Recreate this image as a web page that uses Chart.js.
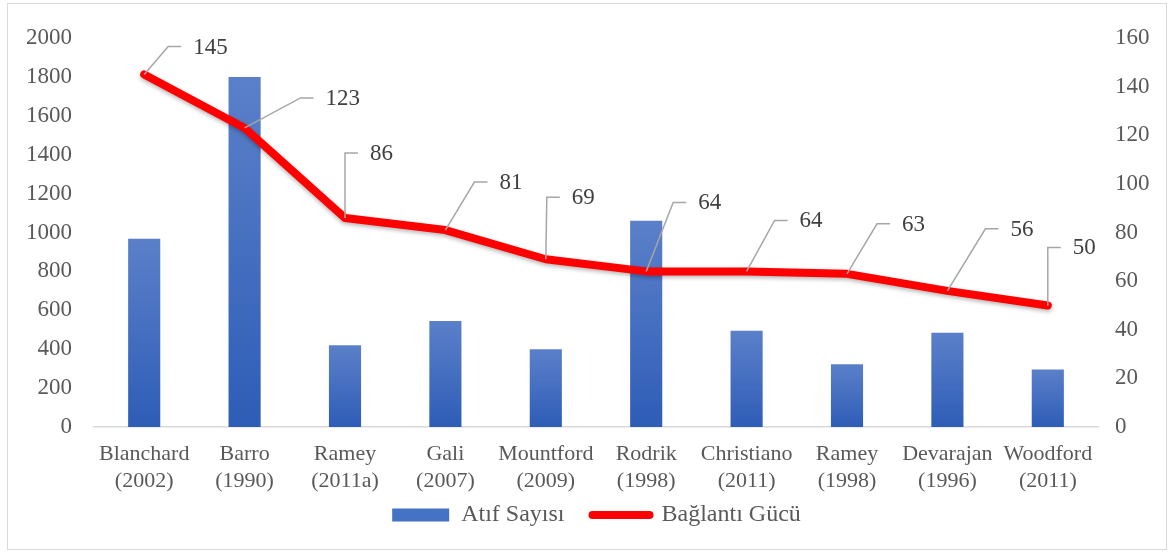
<!DOCTYPE html>
<html lang="tr">
<head>
<meta charset="utf-8">
<title>Atıf Sayısı ve Bağlantı Gücü</title>
<script src="https://cdn.jsdelivr.net/npm/chart.js@4.4.0/dist/chart.umd.min.js"></script>
<style>
  html, body { margin: 0; padding: 0; background: #fff; }
  #contenedor { position: relative; width: 1170px; height: 552px; }
  #marco { position: absolute; left: 7px; top: 3px; width: 1160px; height: 547px;
           border: 1px solid #d9d9d9; box-sizing: border-box; pointer-events: none; }
</style>
</head>
<body>
<div id="contenedor">
  <canvas id="grafico" width="1170" height="552"></canvas>
  <div id="marco"></div>
</div>
<script>
// datos
const categorias = [
  ['Blanchard', '(2002)'], ['Barro', '(1990)'], ['Ramey', '(2011a)'], ['Gali', '(2007)'],
  ['Mountford', '(2009)'], ['Rodrik', '(1998)'], ['Christiano', '(2011)'], ['Ramey', '(1998)'],
  ['Devarajan', '(1996)'], ['Woodford', '(2011)']
];
const atifSayisi = [968, 1800, 420, 545, 400, 1060, 495, 322, 485, 295];
const baglantiGucu = [145, 123, 86, 81, 69, 64, 64, 63, 56, 50];
const ejeIzq = { min: 0, max: 2000, paso: 200 };
const ejeDer = { min: 0, max: 160, paso: 20 };

// desplazamiento (px) del codo de cada linea guia respecto al punto
const desplazamientos = [[24, -28], [56, -30], [0, -65], [29, -48], [1, -62],
                         [27, -69], [28, -51], [30, -50], [38, -62], [0, -58]];

const fuente = '"Liberation Serif", "Times New Roman", serif';
const gris = '#595959';

function degradadoBarra(context) {
  const chart = context.chart;
  const y = chart.scales && chart.scales.y;
  if (!chart.chartArea || !y || context.raw === undefined) return '#4472c4';
  const arriba = y.getPixelForValue(context.raw);
  const abajo = y.getPixelForValue(0);
  const g = chart.ctx.createLinearGradient(0, arriba, 0, abajo);
  g.addColorStop(0, '#5b80c9');
  g.addColorStop(1, '#2e5db7');
  return g;
}

const sombraLinea = {
  id: 'sombraLinea',
  beforeDatasetDraw(chart, args) {
    if (args.index !== 1) return;
    const ctx = chart.ctx;
    ctx.save();
    ctx.shadowColor = 'rgba(0,0,0,0.3)';
    ctx.shadowBlur = 4;
    ctx.shadowOffsetY = 2;
  },
  afterDatasetDraw(chart, args) {
    if (args.index !== 1) return;
    chart.ctx.restore();
  }
};

const etiquetasLinea = {
  id: 'etiquetasLinea',
  afterDatasetsDraw(chart) {
    const meta = chart.getDatasetMeta(1);
    const ctx = chart.ctx;
    ctx.save();
    ctx.strokeStyle = '#a6a6a6';
    ctx.lineWidth = 1.5;
    ctx.font = '23px ' + fuente;
    ctx.fillStyle = '#404040';
    ctx.textBaseline = 'middle';
    ctx.textAlign = 'left';
    meta.data.forEach((pt, i) => {
      const [dx, dy] = desplazamientos[i];
      const ex = pt.x + dx, ey = pt.y + dy;
      ctx.beginPath();
      ctx.moveTo(pt.x, pt.y);
      ctx.lineTo(ex, ey);
      ctx.lineTo(ex + 13, ey);
      ctx.stroke();
      ctx.fillText(String(baglantiGucu[i]), ex + 25, ey + 1);
    });
    ctx.restore();
  }
};

new Chart(document.getElementById('grafico'), {
  data: {
    labels: categorias,
    datasets: [
      {
        type: 'bar',
        label: 'Atıf Sayısı',
        data: atifSayisi,
        yAxisID: 'y',
        backgroundColor: degradadoBarra,
        borderWidth: 0,
        barPercentage: 0.32,
        categoryPercentage: 1,
        order: 2
      },
      {
        type: 'line',
        label: 'Bağlantı Gücü',
        data: baglantiGucu,
        yAxisID: 'y1',
        borderColor: '#ff0000',
        backgroundColor: '#ff0000',
        borderWidth: 8,
        borderCapStyle: 'round',
        borderJoinStyle: 'round',
        pointRadius: 0,
        tension: 0,
        order: 1
      }
    ]
  },
  options: {
    responsive: false,
    animation: false,
    layout: { padding: { left: 23, right: 0, top: 38, bottom: 15 } },
    scales: {
      x: {
        grid: { display: false, drawTicks: false },
        border: { display: true, color: '#d9d9d9', width: 1.5 },
        ticks: { font: { family: fuente, size: 22, lineHeight: 1.23 }, color: gris, padding: 14,
                 maxRotation: 0, autoSkip: false },
        afterFit: s => {
          s.height = 48;
          // la segunda linea de etiquetas invade la zona de la leyenda: sin recorte
          s._computeLabelArea = () => undefined;
        }
      },
      y: {
        position: 'left',
        min: ejeIzq.min, max: ejeIzq.max,
        grid: { display: false, drawTicks: false },
        border: { display: false },
        ticks: { stepSize: ejeIzq.paso, font: { family: fuente, size: 23 }, color: gris, padding: 22,
                 callback: v => String(v) },
        afterFit: s => { s.width = 71; }
      },
      y1: {
        position: 'right',
        min: ejeDer.min, max: ejeDer.max,
        grid: { display: false, drawTicks: false },
        border: { display: false },
        ticks: { stepSize: ejeDer.paso, font: { family: fuente, size: 23 }, color: gris, padding: 17,
                 callback: v => String(v) },
        afterFit: s => { s.width = 72; }
      }
    },
    plugins: {
      tooltip: { enabled: false },
      legend: {
        position: 'bottom',
        labels: {
          usePointStyle: true,
          pointStyleWidth: 57,
          boxHeight: 13,
          padding: 28,
          color: gris,
          font: { family: fuente, size: 24 },
          generateLabels: chart => chart.data.datasets.map((ds, i) => ({
            text: ds.label,
            datasetIndex: i,
            fillStyle: i === 0 ? '#4472c4' : '#ff0000',
            strokeStyle: i === 0 ? '#4472c4' : '#ff0000',
            lineWidth: i === 0 ? 0 : 8,
            lineCap: 'round',
            pointStyle: i === 0 ? 'rect' : 'line',
            fontColor: gris,
            hidden: false
          }))
        }
      }
    }
  },
  plugins: [sombraLinea, etiquetasLinea]
});
</script>
</body>
</html>
